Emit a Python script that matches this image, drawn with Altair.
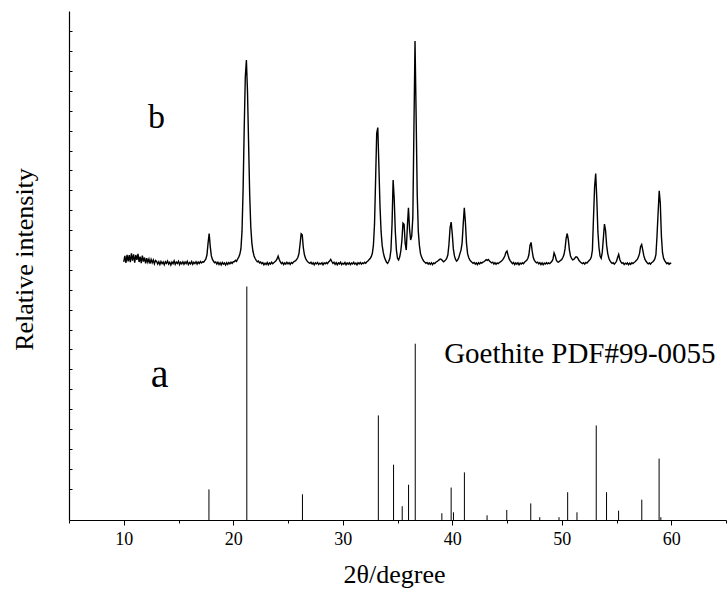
import altair as alt
import pandas as pd

# ---------------- pattern (a): Goethite PDF#99-0055 reference sticks ----------------
ref_two_theta = [17.78, 21.24, 26.32, 33.25, 34.64, 35.43, 36.01, 36.62, 39.05, 39.90,
                 40.11, 41.11, 43.18, 44.98, 47.17, 47.99, 49.75, 50.54, 51.39, 53.15,
                 54.09, 55.19, 57.31, 58.89, 59.05]
ref_intensity = [13.1, 100.0, 11.0, 44.8, 23.7, 5.9, 15.1, 75.5, 2.9, 13.9,
                 3.3, 20.4, 2.0, 4.3, 7.1, 1.2, 1.2, 11.9, 3.3, 40.5,
                 11.9, 4.0, 8.7, 26.3, 1.2]

# ---------------- pattern (b): measured sample, 0.1 deg steps ----------------
b_step = 0.1
b_offset = 109.6
b_segments = [
    (10.0, [1.0, 3.5, 0.5, 4.0, 1.2, 3.8, 0.8, 4.6, 1.5, 4.2, 0.6, 3.9, 1.8, 4.4, 0.9,
            3.2, 0.4, 3.6, 1.1, 2.8, 0.3, 2.5, 0.8, 2.2, 0.2, 2.0, 0.6, 1.8, 0.1, 1.6]),
    (13.0, [1.2, 0.0, 1.0, -0.2, 1.1, 0.2, 0.9, -0.3, 1.0, 0.3, 1.3, 0.0, 0.8, -0.4, 0.9,
            0.2, 1.4, -0.1, 0.9, 0.3, 1.2, -0.2, 0.8, 0.1, 1.0, -0.1, 0.9, 0.2, 1.2, -0.2,
            0.7, 0.1, 1.1, -0.1, 0.8, 0.2, 1.0, 0.0, 0.9, 0.3, 1.1]),
    (17.1, [0.5, 1.0, 0.8, 1.5, 2.2, 4.0, 9.0, 13.1, 7.5, 3.5, 2.0, 1.2, 0.6, 0.9]),
    (18.5, [0.0, 0.8, -0.2, 0.6, -0.3, 0.7, 0.0, 0.5, -0.4, 0.6, -0.1, 0.7, 0.1, 0.8, 0.3, 1.0]),
    (20.1, [1.0, 1.6, 1.2, 2.2, 3.0, 4.2, 6.5, 14.0, 32.0, 58.0, 80.0, 87.4, 74.0, 52.0, 30.0,
            16.0, 9.0, 5.5, 3.5, 2.4, 1.6, 1.0, 1.3, 0.5, 0.9]),
    (22.6, [0.2, 0.6, -0.3, 0.4, -0.2, 0.7, -0.3, 0.5, 0.0, 0.8, 0.2, 0.6, 1.0, 1.4]),
    (24.0, [2.2, 3.4, 2.0, 0.9]),
    (24.4, [0.2, 0.7, -0.2, 0.5, 0.0, 0.8, 0.1, 0.6, -0.1, 0.7, 0.3, 0.9, 1.2]),
    (25.7, [1.5, 2.0, 2.8, 4.5, 8.5, 13.0, 12.5, 7.0, 4.0, 2.5, 1.6, 1.0, 0.6]),
    (27.0, [0.3, 0.8, 0.0, 0.6, -0.3, 0.5, 0.1, 0.7, -0.2, 0.4,
            0.0, 0.6, -0.3, 0.5, 0.1, 0.7, 0.2, 0.9, 1.3, 2.0,
            1.1, 0.3, 0.8, -0.1, 0.6, -0.3, 0.5, 0.1, 0.8, -0.2,
            0.4, 0.0, 0.7, -0.3, 0.5, 0.0, 0.6, -0.2, 0.5, 0.1,
            0.8, 0.0, 0.4, -0.3, 0.6, 0.1, 0.7, 0.0, 0.5, 0.2,
            0.8, 0.4, 1.0, 1.3, 1.9]),
    (32.5, [2.4, 3.2, 4.5, 8.0, 17.0, 36.0, 56.0, 58.5, 42.0, 25.0, 14.0, 8.0, 5.0, 3.0,
            1.8, 0.8, 0.3, 1.2]),
    (34.3, [2.5, 6.0, 17.0, 36.0, 28.0, 14.0, 6.0, 2.5]),
    (35.1, [1.8, 3.0, 5.5, 10.0, 17.5, 17.0, 9.0, 6.0, 16.0, 24.1, 15.0, 10.3, 12.0, 20.0,
            58.0, 95.5, 64.0, 30.0, 14.0, 8.0, 4.5, 3.0, 2.0, 1.2, 0.8]),
    (37.6, [0.3, 0.7, 0.0, 0.5, -0.1, 0.6, -0.2, 0.5, 0.2, 0.8, 1.0, 1.4]),
    (38.8, [1.8, 2.2, 2.0, 1.5, 1.0]),
    (39.3, [1.3, 1.8, 2.5, 4.0, 8.5, 15.5, 18.0, 13.0, 6.5, 3.5]),
    (40.3, [2.0, 1.3, 1.8, 2.8, 4.5, 6.0, 9.0, 17.0, 24.1, 18.0, 9.0, 4.5, 2.8, 1.8, 1.2, 0.8]),
    (41.9, [0.3, 0.7, 0.0, 0.5, -0.2, 0.6, 0.1, 0.7, 0.4, 0.9, 1.1]),
    (43.0, [1.4, 1.9, 1.6, 2.0, 1.3, 0.9]),
    (43.6, [0.5, 0.8, 0.0, 0.6, -0.1, 0.5, 0.2, 0.7, 0.9, 1.3, 1.8]),
    (44.7, [2.5, 3.5, 5.0, 5.6, 3.8, 2.2, 1.4]),
    (45.4, [0.8, 0.2, 0.7, -0.2, 0.5, 0.0, 0.6, -0.3, 0.4, 0.0, 0.6, 0.2, 0.8, 1.2]),
    (46.8, [1.6, 2.4, 4.0, 8.0, 9.3, 5.5, 2.8, 1.6, 1.0, 0.5]),
    (47.8, [0.8, 0.1, 0.6, -0.2, 0.5, -0.3, 0.4, 0.0, 0.6, 0.1, 0.5, 0.2, 0.7, 1.2]),
    (49.2, [2.2, 4.8, 3.6, 1.8, 1.0]),
    (49.7, [0.8, 1.2, 1.6, 2.0, 2.8, 4.0, 6.5, 11.0, 13.1, 10.5, 6.0, 3.5, 2.4]),
    (51.0, [1.8, 2.0, 2.6, 3.1, 3.0, 2.2, 1.4, 0.9, 0.5]),
    (51.9, [0.2, 0.6, 0.0, 0.7, 0.4, 1.0, 1.5]),
    (52.6, [2.0, 3.0, 6.0, 20.0, 33.0, 38.8, 28.0, 14.0, 7.0, 3.5, 2.5]),
    (53.7, [5.0, 11.0, 17.1, 14.5, 8.0, 4.5, 2.5, 1.5, 0.8]),
    (54.6, [0.3, 0.6, 0.0, 0.5, 1.2]),
    (55.1, [2.8, 4.2, 2.0, 0.9]),
    (55.5, [0.3, 0.6, -0.2, 0.4, 0.0, 0.5, -0.3, 0.4, -0.1, 0.6, 0.2, 0.7, 1.0]),
    (56.8, [1.5, 2.0, 3.0, 4.5, 7.5, 8.4, 6.0, 3.5, 2.0, 1.2]),
    (57.8, [0.6, 0.1, 0.5, 0.0, 0.6, 0.9, 1.4]),
    (58.5, [2.2, 4.0, 12.0, 22.0, 31.4, 26.0, 12.0, 5.0, 2.5, 1.5]),
    (59.5, [0.8, 0.2, 0.6, -0.1, 0.4, 0.2]),
]

# ---------------- annotations ----------------
label_text = ["b", "a"]
label_x = [12.98, 13.28]
label_y = [167.9, 57.0]
label_size = [34, 40]
phase_text = "Goethite PDF#99-0055"
phase_x = 39.26
phase_y = 67.2

x_major_ticks = [10, 20, 30, 40, 50, 60]
x_minor_ticks = [5, 15, 25, 35, 45, 55, 65]
y_tick_values = [13.4 + 8.52 * k for k in range(24)]

FONT = "Times New Roman, Liberation Serif, DejaVu Serif, serif"

# ---------------- tables ----------------
sticks = pd.DataFrame({"two_theta": ref_two_theta, "intensity": ref_intensity})
sticks["base"] = 0.0

rows = []
for start, vals in b_segments:
    for k, v in enumerate(vals):
        rows.append({"two_theta": round(start + k * b_step, 2), "intensity": v + b_offset})
trace = pd.DataFrame(rows).sort_values("two_theta")

labels = pd.DataFrame({"txt": label_text, "x": label_x, "y": label_y, "size": label_size})
phase = pd.DataFrame({"txt": [phase_text], "x": [phase_x], "y": [phase_y]})

xscale = alt.Scale(domain=[5, 65], nice=False, zero=False)
yscale = alt.Scale(domain=[0, 218], nice=False, zero=False)

x_axis_major = alt.Axis(
    orient="bottom", values=x_major_ticks, format="d", grid=False,
    tickSize=5, tickColor="black", tickWidth=1,
    domainColor="black", domainWidth=1.2,
    labelFont=FONT, labelFontSize=18, labelColor="black",
    labelPadding=19, labelBaseline="alphabetic",
    title="2θ/degree", titleFont=FONT, titleFontSize=26, titleFontWeight="normal",
    titleColor="black", titleX=325, titleY=62, titleBaseline="alphabetic", titleAlign="center",
)
x_axis_minor = alt.Axis(
    orient="bottom", values=x_minor_ticks, grid=False, labels=False, domain=False,
    tickSize=3, tickColor="black", tickWidth=1, title=None,
)
y_axis_main = alt.Axis(
    orient="left", grid=False, ticks=False, labels=False,
    domainColor="black", domainWidth=1.2,
    title="Relative intensity", titleFont=FONT, titleFontSize=26, titleFontWeight="normal",
    titleColor="black", titleAngle=270, titleX=-37, titleY=248,
    titleBaseline="alphabetic", titleAlign="center",
)
y_axis_ticks = alt.Axis(
    orient="right", offset=-657, values=y_tick_values, grid=False, labels=False,
    domain=False, tickSize=3, tickColor="black", tickWidth=1, title=None,
)

stick_layer = alt.Chart(sticks).mark_rule(color="black", strokeWidth=1).encode(
    x=alt.X("two_theta:Q", scale=xscale, axis=x_axis_major),
    y=alt.Y("intensity:Q", scale=yscale, axis=y_axis_main),
    y2="base:Q",
)

trace_layer = alt.Chart(trace).mark_line(color="black", strokeWidth=1.4).encode(
    x=alt.X("two_theta:Q", scale=xscale, axis=x_axis_minor),
    y=alt.Y("intensity:Q", scale=yscale, axis=y_axis_ticks),
    order="two_theta:Q",
)

label_layer = alt.Chart(labels).mark_text(
    font=FONT, color="black", align="center", baseline="alphabetic"
).encode(
    x=alt.X("x:Q", scale=xscale, axis=None),
    y=alt.Y("y:Q", scale=yscale, axis=None),
    text="txt:N",
    size=alt.Size("size:Q", scale=None, legend=None),
)

phase_layer = alt.Chart(phase).mark_text(
    font=FONT, fontSize=29, color="black", align="left", baseline="alphabetic"
).encode(
    x=alt.X("x:Q", scale=xscale, axis=None),
    y=alt.Y("y:Q", scale=yscale, axis=None),
    text="txt:N",
)

chart = alt.layer(stick_layer, trace_layer, label_layer, phase_layer).resolve_axis(
    x="independent", y="independent"
).properties(
    width=657, height=509,
    padding={"left": 69, "top": 11, "right": 1, "bottom": 71},
    autosize=alt.AutoSizeParams(type="none"),
    background="white",
).configure_view(strokeWidth=0)

chart.save("out.html", embed_options={"renderer": "svg", "actions": False})
